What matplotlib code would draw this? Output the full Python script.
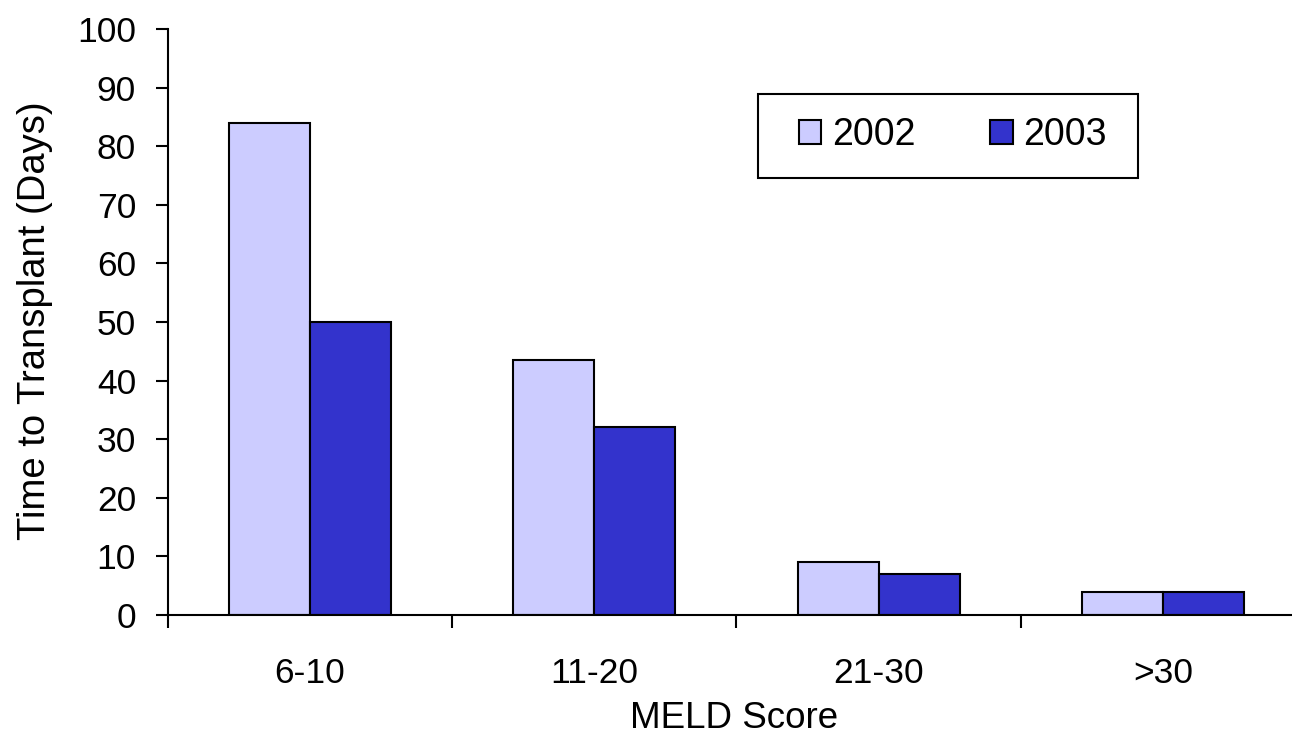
import matplotlib.pyplot as plt
from matplotlib.patches import Rectangle
import numpy as np

plt.rcParams['font.family'] = ['Liberation Sans', 'DejaVu Sans']

categories = ['6-10', '11-20', '21-30', '>30']
years = ['2002', '2003']
days_2002 = [84, 43.6, 9, 4]
days_2003 = [50, 32, 7, 4]
colours = ['#CCCCFF', '#3333CC']

fig = plt.figure(figsize=(12.92, 7.35), dpi=100)
# x axis runs a little past the right edge of the figure
ax = fig.add_axes([0.130, 0.1633, 0.880, 0.7972])

x = np.arange(len(categories))
w = 0.285
b1 = ax.bar(x - w / 2, days_2002, w, color=colours[0], edgecolor='black', linewidth=1.5, label=years[0])
b2 = ax.bar(x + w / 2, days_2003, w, color=colours[1], edgecolor='black', linewidth=1.5, label=years[1])

ax.set_xlim(-0.5, len(categories) - 0.5)
ax.set_ylim(0, 100)
ax.set_yticks(range(0, 101, 10))

# boundary ticks without labels, category names centred between them
ax.set_xticks(np.arange(-0.5, len(categories), 1.0))
ax.set_xticklabels([])
ax.set_xticks(x, minor=True)
ax.set_xticklabels(categories, minor=True)
ax.tick_params(axis='x', which='major', direction='out', length=9, width=1.5)
ax.tick_params(axis='x', which='minor', length=0, pad=30, labelsize=25.5)
ax.tick_params(axis='y', direction='out', length=9, width=1.5, pad=14, labelsize=25.5)

for side in ['top', 'right']:
    ax.spines[side].set_visible(False)
for side in ['left', 'bottom']:
    ax.spines[side].set_linewidth(1.5)

ax.set_ylabel('Time to Transplant (Days)', fontsize=27.5)
ax.yaxis.set_label_coords(-0.101, 0.502)
ax.set_xlabel('MELD Score', fontsize=26.5)
ax.xaxis.set_label_coords(0.498, -0.146)

# legend box drawn separately so the entries keep their own spacing
box = Rectangle((758 / 1292, 1 - 178 / 735), 380 / 1292, 84 / 735,
                transform=fig.transFigure, facecolor='white', edgecolor='black',
                linewidth=1.5, zorder=3)
fig.patches.append(box)
leg = fig.legend(handles=[b1, b2], labels=years, loc='center',
                 bbox_to_anchor=(0.7375, 0.8163), ncol=2, frameon=False,
                 fontsize=27, handlelength=0.6, handleheight=0.6,
                 handletextpad=0.28, columnspacing=2.0)
leg.set_zorder(4)

fig.savefig('out.png', dpi=100)
